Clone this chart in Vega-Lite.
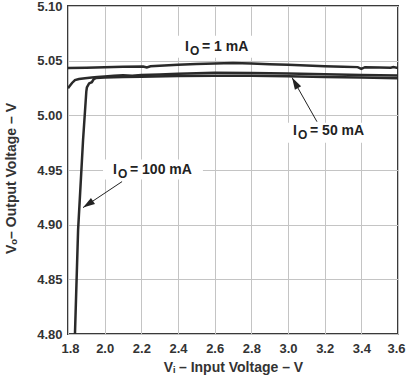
{
  "$schema": "https://vega.github.io/schema/vega-lite/v6.json",
  "autosize": {"type": "none"},
  "padding": {"left": 68, "top": 6, "right": 8, "bottom": 44},
  "width": 330,
  "height": 328,
  "background": "white",
  "config": {
    "font": "Liberation Sans",
    "view": {"stroke": "#3a3a3a", "strokeWidth": 2},
    "axis": {
      "labelFont": "Liberation Sans",
      "labelFontWeight": "bold",
      "labelFontSize": 13,
      "labelColor": "#333333",
      "labelOverlap": false,
      "labelFlush": false,
      "titleFont": "Liberation Sans",
      "titleFontWeight": "bold",
      "titleFontSize": 14,
      "titleColor": "#333333",
      "grid": true,
      "gridColor": "#c4c4c4",
      "gridWidth": 1,
      "ticks": false,
      "domain": false
    }
  },
  "datasets": {
    "curves": [
      {"series": "1 mA", "vi": 1.80, "vo": 5.0433},
      {"series": "1 mA", "vi": 1.90, "vo": 5.0436},
      {"series": "1 mA", "vi": 2.00, "vo": 5.0440},
      {"series": "1 mA", "vi": 2.10, "vo": 5.0444},
      {"series": "1 mA", "vi": 2.21, "vo": 5.0447},
      {"series": "1 mA", "vi": 2.23, "vo": 5.0438},
      {"series": "1 mA", "vi": 2.25, "vo": 5.0449},
      {"series": "1 mA", "vi": 2.40, "vo": 5.0462},
      {"series": "1 mA", "vi": 2.50, "vo": 5.0469},
      {"series": "1 mA", "vi": 2.60, "vo": 5.0475},
      {"series": "1 mA", "vi": 2.70, "vo": 5.0478},
      {"series": "1 mA", "vi": 2.80, "vo": 5.0474},
      {"series": "1 mA", "vi": 2.90, "vo": 5.0468},
      {"series": "1 mA", "vi": 3.00, "vo": 5.0462},
      {"series": "1 mA", "vi": 3.10, "vo": 5.0456},
      {"series": "1 mA", "vi": 3.20, "vo": 5.0450},
      {"series": "1 mA", "vi": 3.30, "vo": 5.0445},
      {"series": "1 mA", "vi": 3.38, "vo": 5.0441},
      {"series": "1 mA", "vi": 3.40, "vo": 5.0425},
      {"series": "1 mA", "vi": 3.42, "vo": 5.0440},
      {"series": "1 mA", "vi": 3.50, "vo": 5.0437},
      {"series": "1 mA", "vi": 3.56, "vo": 5.0435},
      {"series": "1 mA", "vi": 3.575, "vo": 5.0442},
      {"series": "1 mA", "vi": 3.60, "vo": 5.0433},
      {"series": "50 mA", "vi": 1.800, "vo": 5.0248},
      {"series": "50 mA", "vi": 1.806, "vo": 5.0262},
      {"series": "50 mA", "vi": 1.822, "vo": 5.0296},
      {"series": "50 mA", "vi": 1.838, "vo": 5.0322},
      {"series": "50 mA", "vi": 1.860, "vo": 5.0332},
      {"series": "50 mA", "vi": 1.893, "vo": 5.0340},
      {"series": "50 mA", "vi": 1.930, "vo": 5.0345},
      {"series": "50 mA", "vi": 1.960, "vo": 5.0350},
      {"series": "50 mA", "vi": 2.000, "vo": 5.0356},
      {"series": "50 mA", "vi": 2.050, "vo": 5.0362},
      {"series": "50 mA", "vi": 2.100, "vo": 5.0366},
      {"series": "50 mA", "vi": 2.150, "vo": 5.0363},
      {"series": "50 mA", "vi": 2.200, "vo": 5.0368},
      {"series": "50 mA", "vi": 2.300, "vo": 5.0374},
      {"series": "50 mA", "vi": 2.400, "vo": 5.0380},
      {"series": "50 mA", "vi": 2.500, "vo": 5.0386},
      {"series": "50 mA", "vi": 2.600, "vo": 5.0389},
      {"series": "50 mA", "vi": 2.800, "vo": 5.0388},
      {"series": "50 mA", "vi": 3.000, "vo": 5.0382},
      {"series": "50 mA", "vi": 3.200, "vo": 5.0375},
      {"series": "50 mA", "vi": 3.400, "vo": 5.0369},
      {"series": "50 mA", "vi": 3.600, "vo": 5.0364},
      {"series": "100 mA", "vi": 1.838, "vo": 4.800},
      {"series": "100 mA", "vi": 1.855, "vo": 4.895},
      {"series": "100 mA", "vi": 1.882, "vo": 4.977},
      {"series": "100 mA", "vi": 1.900, "vo": 5.022},
      {"series": "100 mA", "vi": 1.903, "vo": 5.0255},
      {"series": "100 mA", "vi": 1.915, "vo": 5.0292},
      {"series": "100 mA", "vi": 1.930, "vo": 5.0303},
      {"series": "100 mA", "vi": 1.940, "vo": 5.0330},
      {"series": "100 mA", "vi": 1.952, "vo": 5.0341},
      {"series": "100 mA", "vi": 2.000, "vo": 5.0345},
      {"series": "100 mA", "vi": 2.100, "vo": 5.0350},
      {"series": "100 mA", "vi": 2.200, "vo": 5.0354},
      {"series": "100 mA", "vi": 2.400, "vo": 5.0359},
      {"series": "100 mA", "vi": 2.600, "vo": 5.0362},
      {"series": "100 mA", "vi": 2.800, "vo": 5.0361},
      {"series": "100 mA", "vi": 3.000, "vo": 5.0357},
      {"series": "100 mA", "vi": 3.200, "vo": 5.0351},
      {"series": "100 mA", "vi": 3.400, "vo": 5.0346},
      {"series": "100 mA", "vi": 3.600, "vo": 5.0340}
    ],
    "labels": [
      {"lx": 2.438, "ly": 5.0622, "rest": "= 1 mA", "bx1": 2.384, "bx2": 2.831, "by1": 5.0527, "by2": 5.0728},
      {"lx": 2.0455, "ly": 4.9504, "rest": "= 100 mA", "bx1": 1.991, "bx2": 2.536, "by1": 4.9412, "by2": 4.9595},
      {"lx": 3.0275, "ly": 4.9854, "rest": "= 50 mA", "bx1": 2.973, "bx2": 3.486, "by1": 4.975, "by2": 4.9933}
    ],
    "arrows": [
      {"x1": 2.095, "y1": 4.9394, "x2": 1.882, "y2": 4.9156},
      {"x1": 3.158, "y1": 4.9942, "x2": 3.022, "y2": 5.0345}
    ]
  },
  "layer": [
    {
      "data": {"name": "labels"},
      "mark": {"type": "rect", "color": "white"},
      "encoding": {
        "x": {"field": "bx1", "type": "quantitative", "scale": {"domain": [1.8, 3.6], "nice": false, "zero": false},
              "axis": {"values": [1.8, 2.0, 2.2, 2.4, 2.6, 2.8, 3.0, 3.2, 3.4, 3.6], "tickCount": 12, "format": ".1f", "labelPadding": 8,
                       "labelFlush": true, "labelFlushOffset": 7,
                       "title": "Vᵢ – Input Voltage – V", "titleBaseline": "middle", "titleY": 33}},
        "x2": {"field": "bx2"},
        "y": {"field": "by1", "type": "quantitative", "scale": {"domain": [4.8, 5.1], "nice": false, "zero": false},
              "axis": {"values": [4.8, 4.85, 4.9, 4.95, 5.0, 5.05, 5.1], "tickCount": 10, "format": ".2f", "labelPadding": 6,
                       "title": "Vₒ– Output Voltage – V", "titleBaseline": "middle", "titleX": -57, "titleY": 172}},
        "y2": {"field": "by2"}
      }
    },
    {
      "data": {"name": "curves"},
      "mark": {"type": "line", "color": "#2a2a2a", "strokeWidth": 2.5, "clip": true},
      "encoding": {
        "x": {"field": "vi", "type": "quantitative"},
        "y": {"field": "vo", "type": "quantitative"},
        "detail": {"field": "series"}
      }
    },
    {
      "data": {"name": "arrows"},
      "mark": {"type": "rule", "color": "#222222", "strokeWidth": 1},
      "encoding": {
        "x": {"field": "x1", "type": "quantitative"},
        "y": {"field": "y1", "type": "quantitative"},
        "x2": {"field": "x2"},
        "y2": {"field": "y2"}
      }
    },
    {
      "data": {"values": [{"tx": 1.882, "ty": 4.9156}]},
      "mark": {"type": "point", "shape": "M0,0L-0.3,1L0.3,1Z", "size": 576, "filled": true, "color": "#222222", "opacity": 1, "angle": 236},
      "encoding": {
        "x": {"field": "tx", "type": "quantitative"},
        "y": {"field": "ty", "type": "quantitative"}
      }
    },
    {
      "data": {"values": [{"tx": 3.022, "ty": 5.0345}]},
      "mark": {"type": "point", "shape": "M0,0L-0.3,1L0.3,1Z", "size": 576, "filled": true, "color": "#222222", "opacity": 1, "angle": 330},
      "encoding": {
        "x": {"field": "tx", "type": "quantitative"},
        "y": {"field": "ty", "type": "quantitative"}
      }
    },
    {
      "data": {"name": "labels"},
      "mark": {"type": "text", "text": "I", "align": "left", "baseline": "middle", "fontSize": 14, "fontWeight": "bold", "color": "#222222"},
      "encoding": {
        "x": {"field": "lx", "type": "quantitative"},
        "y": {"field": "ly", "type": "quantitative"}
      }
    },
    {
      "data": {"name": "labels"},
      "mark": {"type": "text", "text": "O", "align": "left", "baseline": "middle", "fontSize": 12, "fontWeight": "bold", "color": "#222222", "dx": 5, "dy": 4},
      "encoding": {
        "x": {"field": "lx", "type": "quantitative"},
        "y": {"field": "ly", "type": "quantitative"}
      }
    },
    {
      "data": {"name": "labels"},
      "mark": {"type": "text", "align": "left", "baseline": "middle", "fontSize": 14, "fontWeight": "bold", "color": "#222222", "dx": 17},
      "encoding": {
        "x": {"field": "lx", "type": "quantitative"},
        "y": {"field": "ly", "type": "quantitative"},
        "text": {"field": "rest"}
      }
    }
  ]
}
